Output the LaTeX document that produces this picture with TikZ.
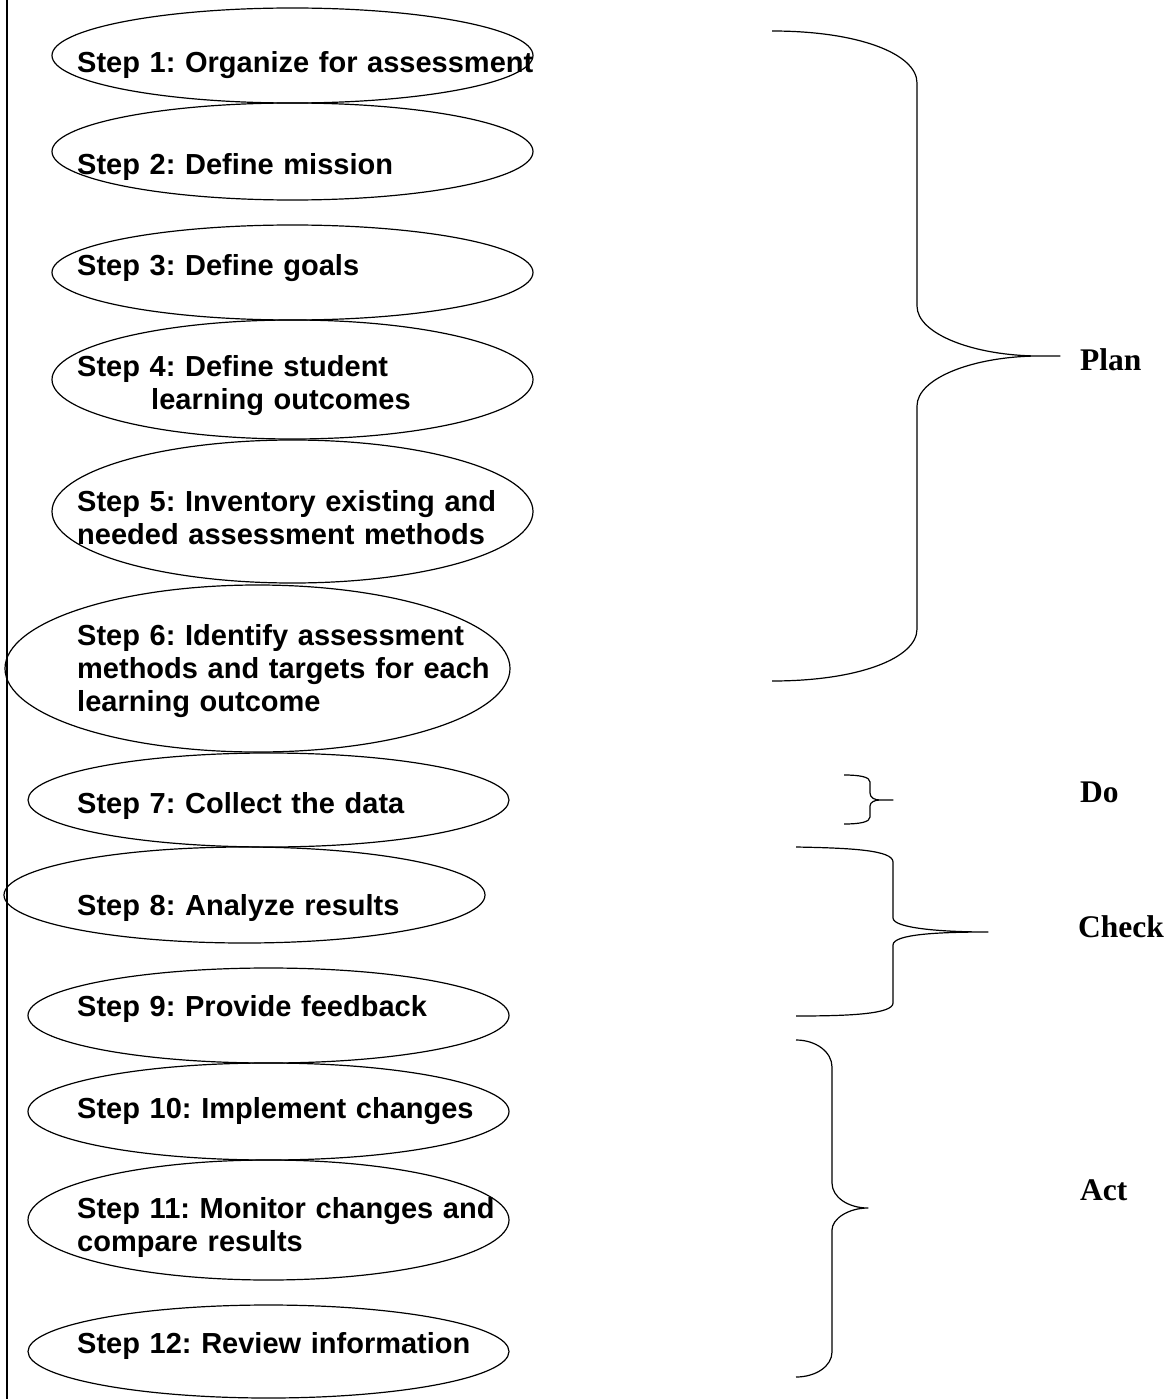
\documentclass[tikz,border=0pt]{standalone}
\usepackage{fontspec}
\usepackage{tikz}
\usetikzlibrary{shapes.geometric}
\newfontfamily\stepfont{Liberation Sans}
\newfontfamily\pdcafont{Liberation Serif}

\begin{document}
\frenchspacing
\begin{tikzpicture}[
    x=1pt, y=-1pt,
    stepoval/.style={ellipse, draw, line width=1.2pt, inner sep=0pt},
    steptext/.style={anchor=base west, text width=480pt, align=left, inner sep=0pt,
        font={\stepfont\bfseries\frenchspacing\fontsize{29pt}{33pt}\selectfont}},
    phasebrace/.style={line width=1.2pt, line join=round},
    phaselabel/.style={anchor=base west, inner sep=0pt,
        font={\pdcafont\bfseries\fontsize{31.5pt}{36pt}\selectfont}}
]
    \useasboundingbox (0,0) rectangle (1171,1399);
    \draw[line width=1.8pt] (7,0) -- (7,1399);

    % The twelve steps
    \node[stepoval, minimum width=481pt, minimum height=95pt]  (s1)  at (292.5,55.5)  {};
    \node[stepoval, minimum width=481pt, minimum height=97pt]  (s2)  at (292.5,151.5) {};
    \node[stepoval, minimum width=481pt, minimum height=95pt]  (s3)  at (292.5,272.5) {};
    \node[stepoval, minimum width=481pt, minimum height=119pt] (s4)  at (292.5,379.5) {};
    \node[stepoval, minimum width=481pt, minimum height=143pt] (s5)  at (292.5,511.5) {};
    \node[stepoval, minimum width=505pt, minimum height=167pt] (s6)  at (257.5,668.5) {};
    \node[stepoval, minimum width=481pt, minimum height=94pt]  (s7)  at (268.5,800)   {};
    \node[stepoval, minimum width=481pt, minimum height=96pt]  (s8)  at (244.5,895)   {};
    \node[stepoval, minimum width=481pt, minimum height=95pt]  (s9)  at (268.5,1015.5) {};
    \node[stepoval, minimum width=481pt, minimum height=97pt]  (s10) at (268.5,1111.5) {};
    \node[stepoval, minimum width=481pt, minimum height=120pt] (s11) at (268.5,1220)  {};
    \node[stepoval, minimum width=481pt, minimum height=93pt]  (s12) at (268.5,1351.5) {};

    \node[steptext] (t1)  at (77,73)   {Step 1: Organize for assessment};
    \node[steptext] (t2)  at (77,175)  {Step 2: Define mission};
    \node[steptext] (t3)  at (77,275)  {Step 3: Define goals};
    \node[steptext] (t4)  at (77,376)  {Step 4: Define student\\\hspace*{74pt}learning outcomes};
    \node[steptext] (t5)  at (77,511)  {Step 5: Inventory existing and\\needed assessment methods};
    \node[steptext] (t6)  at (77,645)  {Step 6: Identify assessment\\methods and targets for each\\learning outcome};
    \node[steptext] (t7)  at (77,813)  {Step 7: Collect the data};
    \node[steptext] (t8)  at (77,915)  {Step 8: Analyze results};
    \node[steptext] (t9)  at (77,1016) {Step 9: Provide feedback};
    \node[steptext] (t10) at (77,1118) {Step 10: Implement changes};
    \node[steptext] (t11) at (77,1218) {Step 11: Monitor changes and\\compare results};
    \node[steptext] (t12) at (77,1353) {Step 12: Review information};

    % Braces and phase labels
    \draw[phasebrace] (772,31) .. controls (859,31) and (917,54) .. (917,83) -- (917,306)
        .. controls (917,334) and (974,356) .. (1040,356) -- (1060,356) -- (1040,356)
        .. controls (974,356) and (917,378) .. (917,406) -- (917,629)
        .. controls (917,658) and (859,681) .. (772,681);
    \draw[phasebrace] (844,775) .. controls (860,775) and (870,777) .. (870,782) -- (870,793)
        .. controls (870,798) and (875,800) .. (880,800) -- (893,800) -- (880,800)
        .. controls (875,800) and (870,802) .. (870,806) -- (870,817)
        .. controls (870,822) and (860,824) .. (844,824);
    \draw[phasebrace] (796,847) .. controls (850,848) and (893,850) .. (893,862) -- (893,918)
        .. controls (893,928) and (940,932) .. (988,932)
        .. controls (940,932) and (893,934) .. (893,945) -- (893,1003)
        .. controls (893,1014) and (850,1016) .. (796,1016);
    \draw[phasebrace] (796,1040) .. controls (816,1040) and (832,1052) .. (832,1067) -- (832,1183)
        .. controls (832,1197) and (848,1208) .. (868,1208)
        .. controls (848,1208) and (832,1219) .. (832,1230) -- (832,1352)
        .. controls (832,1366) and (816,1377) .. (796,1377);

    \node[phaselabel] (plan)  at (1080,370)  {Plan};
    \node[phaselabel] (do)    at (1080,802)  {Do};
    \node[phaselabel] (check) at (1078,937)  {Check};
    \node[phaselabel] (act)   at (1080,1200) {Act};
\end{tikzpicture}
\end{document}
